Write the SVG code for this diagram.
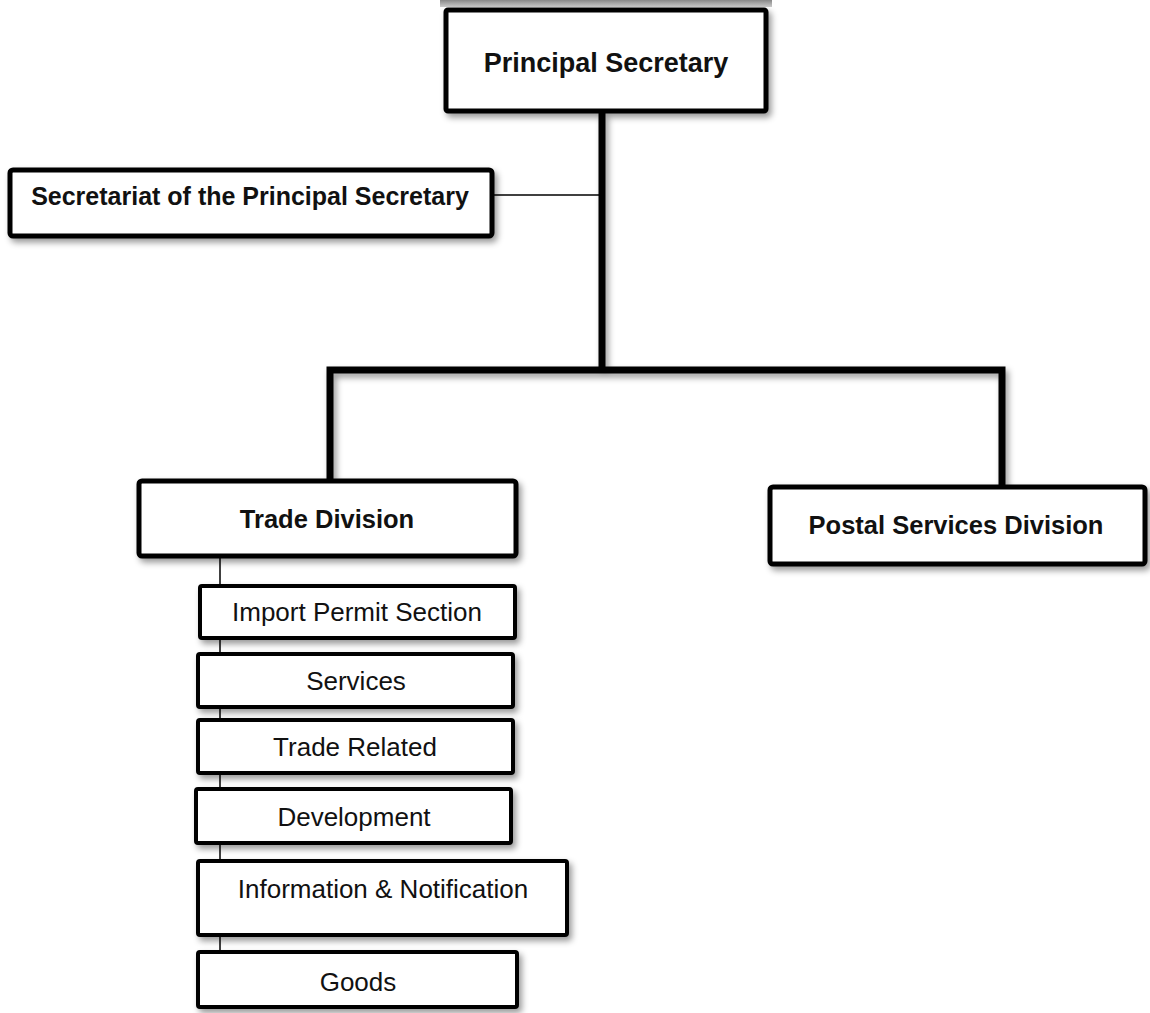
<svg xmlns="http://www.w3.org/2000/svg" width="1150" height="1013" viewBox="0 0 1150 1013">
  <defs>
    <filter id="shadow" x="-10%" y="-20%" width="125%" height="150%">
      <feDropShadow dx="3" dy="4" stdDeviation="3" flood-color="#000" flood-opacity="0.4"/>
    </filter>
    <linearGradient id="topShade" x1="0" y1="0" x2="0" y2="1">
      <stop offset="0" stop-color="#888"/>
      <stop offset="1" stop-color="#ccc"/>
    </linearGradient>
  </defs>
  <style>
    .main { fill: #fff; stroke: #000; stroke-width: 5; filter: url(#shadow); }
    .sub { fill: #fff; stroke: #000; stroke-width: 4; filter: url(#shadow); }
    .trunk { fill: none; stroke: #000; stroke-width: 7; stroke-linejoin: miter; filter: url(#shadow); }
    .thin { fill: none; stroke: #000; stroke-width: 1.5; }
    .bold { font-family: "Liberation Sans", Arial, sans-serif; font-weight: bold; font-size: 25.5px; fill: #111; text-anchor: middle; }
    .reg { font-family: "Liberation Sans", Arial, sans-serif; font-size: 26px; fill: #111; text-anchor: middle; }
  </style>
  <rect width="1150" height="1013" fill="#fff"/>
  <rect x="440" y="0" width="332" height="7" fill="url(#topShade)"/>

  <g id="connectors">
    <path class="trunk" d="M602,113 V370 M330,480 V370 H1002 V487"/>
    <path class="thin" d="M493,195 H600"/>
    <path class="thin" d="M220,556 V952"/>
  </g>

  <g id="principal-secretary">
    <rect class="main" x="446" y="10" width="320" height="101" rx="2"/>
    <text class="bold" x="606" y="72" style="font-size:27px">Principal Secretary</text>
  </g>

  <g id="secretariat">
    <rect class="main" x="10" y="170" width="482" height="66" rx="3"/>
    <text class="bold" x="250" y="205" style="font-size:25px">Secretariat of the Principal Secretary</text>
  </g>

  <g id="trade-division">
    <rect class="main" x="139" y="481" width="377" height="75" rx="3"/>
    <text class="bold" x="327" y="528">Trade Division</text>
  </g>

  <g id="postal-services-division">
    <rect class="main" x="770" y="487" width="375" height="77" rx="3"/>
    <text class="bold" x="956" y="534">Postal Services Division</text>
  </g>

  <g id="import-permit-section">
    <rect class="sub" x="200" y="586" width="315" height="52" rx="2"/>
    <text class="reg" x="357" y="621">Import Permit Section</text>
  </g>

  <g id="services">
    <rect class="sub" x="198" y="654" width="315" height="53" rx="2"/>
    <text class="reg" x="356" y="690">Services</text>
  </g>

  <g id="trade-related">
    <rect class="sub" x="198" y="720" width="315" height="53" rx="2"/>
    <text class="reg" x="355" y="756">Trade Related</text>
  </g>

  <g id="development">
    <rect class="sub" x="196" y="789" width="315" height="54" rx="2"/>
    <text class="reg" x="354" y="826">Development</text>
  </g>

  <g id="information-notification">
    <rect class="sub" x="198" y="861" width="369" height="74" rx="2"/>
    <text class="reg" x="383" y="898">Information &amp; Notification</text>
  </g>

  <g id="goods">
    <rect class="sub" x="198" y="952" width="319" height="55" rx="2"/>
    <text class="reg" x="358" y="991">Goods</text>
  </g>
</svg>
